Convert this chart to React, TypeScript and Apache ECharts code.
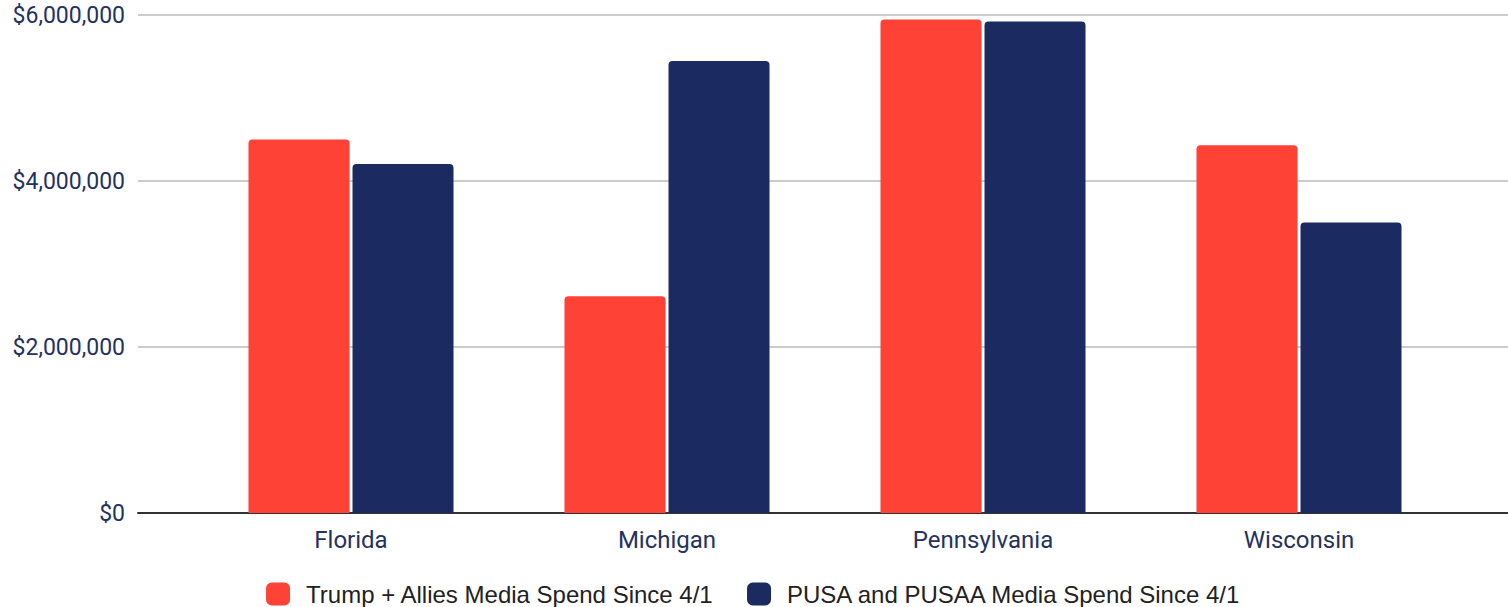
import React, { useEffect, useRef } from "react";
import * as echarts from "echarts";

const categories = ["Florida", "Michigan", "Pennsylvania", "Wisconsin"];
const seriesNames = [
  "Trump + Allies Media Spend Since 4/1",
  "PUSA and PUSAA Media Spend Since 4/1",
];
const trumpValues = [4500000, 2610000, 5945000, 4430000];
const pusaValues = [4205000, 5445000, 5922000, 3500000];
const yTicks = [0, 2000000, 4000000, 6000000];

const RED = "#ff4136";
const NAVY = "#1b2a61";
const LABEL = "#24325f";

export default function App() {
  const ref = useRef<HTMLDivElement>(null);
  useEffect(() => {
    if (!ref.current) return;
    const chart = echarts.init(ref.current, undefined, { renderer: "svg" });
    const yMax = yTicks[yTicks.length - 1];
    const yInterval = yTicks[1] - yTicks[0];
    chart.setOption({
      animation: false,
      textStyle: { fontFamily: "Roboto" },
      grid: [
        { left: 138, right: 0, top: 15, bottom: 94, containLabel: false },
        { left: 193, right: 51, top: 15, bottom: 94, containLabel: false },
      ],
      legend: {
        top: 582,
        left: "center",
        padding: 0,
        itemWidth: 24,
        itemHeight: 23,
        itemGap: 33,
        icon: "roundRect",
        textStyle: {
          fontSize: 24,
          color: "#222",
          fontFamily: "Liberation Sans",
          padding: [0, 0, 0, 11],
        },
        data: seriesNames,
      },
      xAxis: [
        {
          gridIndex: 0,
          type: "category",
          data: categories,
          axisLine: { show: true, lineStyle: { color: "#333", width: 2 } },
          axisTick: { show: false },
          axisLabel: { show: false },
        },
        {
          gridIndex: 1,
          type: "category",
          data: categories,
          axisLine: { show: false },
          axisTick: { show: false },
          axisLabel: { color: LABEL, fontSize: 24, margin: 15 },
        },
      ],
      yAxis: [
        {
          gridIndex: 0,
          type: "value",
          min: 0,
          max: yMax,
          interval: yInterval,
          axisLine: { show: false },
          axisTick: { show: false },
          splitLine: { lineStyle: { color: "#cccccc", width: 2 } },
          axisLabel: {
            color: LABEL,
            fontSize: 23,
            margin: 13,
            formatter: (v: number) => "$" + v.toLocaleString("en-US"),
          },
        },
        {
          gridIndex: 1,
          type: "value",
          min: 0,
          max: yMax,
          interval: yInterval,
          show: false,
          splitLine: { show: false },
        },
      ],
      series: [
        {
          name: seriesNames[0],
          type: "bar",
          xAxisIndex: 1,
          yAxisIndex: 1,
          data: trumpValues,
          barWidth: 101,
          barGap: "3%",
          itemStyle: { color: RED, borderRadius: [4, 4, 0, 0] },
        },
        {
          name: seriesNames[1],
          type: "bar",
          xAxisIndex: 1,
          yAxisIndex: 1,
          data: pusaValues,
          barWidth: 101,
          barGap: "3%",
          itemStyle: { color: NAVY, borderRadius: [4, 4, 0, 0] },
        },
      ],
    });
    return () => chart.dispose();
  }, []);
  return (
    <div
      ref={ref}
      style={{ position: "fixed", left: 0, top: 0, width: 1508, height: 607, background: "#fff" }}
    />
  );
}
